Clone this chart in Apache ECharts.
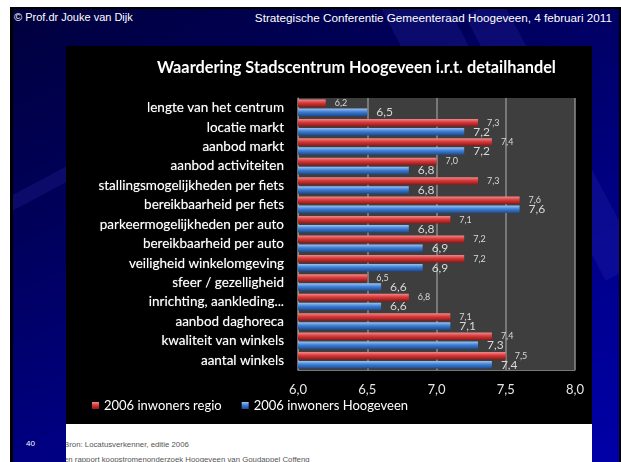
<!DOCTYPE html>
<html>
<head>
<meta charset="utf-8">
<script src="https://cdn.jsdelivr.net/npm/echarts@6/dist/echarts.min.js"></script>
<style>
  html, body { margin: 0; padding: 0; background: #fff; }
  .slide {
    position: absolute; left: 10px; top: 7px; width: 606px; height: 460px;
    border-left: 3px solid #000; border-top: 2px solid #000; border-right: 2px solid #000;
    background: linear-gradient(155deg, #00003e 0%, #00005a 30%, #000080 60%, #00009a 85%, #0000a8 100%);
    overflow: hidden;
  }
  .streak { position: absolute; background: rgba(60, 60, 200, 0.18); transform: rotate(-28deg); }
  .hdr { position: absolute; top: 11px; color: #fff; font-family: "Liberation Sans", sans-serif; white-space: nowrap; }
  #chart { position: absolute; left: 66px; top: 46px; width: 526px; height: 378px; background: #000; }
  .note { position: absolute; left: 66px; top: 424px; width: 526px; height: 38px; background: #fff; overflow: hidden; }
  .note div { position: absolute; left: -2px; font-family: "Liberation Sans", sans-serif; font-size: 7.8px; color: #555; white-space: nowrap; }
  .pnum { position: absolute; left: 26px; top: 439px; color: #fff; font-family: "Liberation Sans", sans-serif; font-size: 8px; }
</style>
</head>
<body>
<div class="slide">
  <div class="streak" style="left:420px;top:-40px;width:60px;height:260px;"></div>
  <div class="streak" style="left:520px;top:-20px;width:40px;height:300px;"></div>
  <div class="streak" style="left:-20px;top:160px;width:140px;height:14px;"></div>
</div>
<div class="hdr" style="left:14px;font-size:11px;">© Prof.dr Jouke van Dijk</div>
<div class="hdr" style="right:9px;font-size:11.7px;">Strategische Conferentie Gemeenteraad Hoogeveen, 4 februari 2011</div>
<div id="chart"></div>
<div class="note">
  <div style="top:16px;">Bron: Locatusverkenner, editie 2006</div>
  <div style="top:31px;">en rapport koopstromenonderzoek Hoogeveen van Goudappel Coffeng</div>
</div>
<div class="pnum">40</div>

<script>
// data
const categories = [
  "lengte van het centrum", "locatie markt", "aanbod markt", "aanbod activiteiten",
  "stallingsmogelijkheden per fiets", "bereikbaarheid per fiets", "parkeermogelijkheden per auto",
  "bereikbaarheid per auto", "veiligheid winkelomgeving", "sfeer / gezelligheid",
  "inrichting, aankleding...", "aanbod daghoreca", "kwaliteit van winkels", "aantal winkels"
];
const regio = [6.2, 7.3, 7.4, 7.0, 7.3, 7.6, 7.1, 7.2, 7.2, 6.5, 6.8, 7.1, 7.4, 7.5];
const hoogeveen = [6.5, 7.2, 7.2, 6.8, 6.8, 7.6, 6.8, 6.9, 6.9, 6.6, 6.6, 7.1, 7.3, 7.4];
const seriesNames = ["2006 inwoners regio", "2006 inwoners Hoogeveen"];

const comma = v => Number(v).toFixed(1).replace(".", ",");
const font = "Lato, 'Open Sans', sans-serif";

const redFill = new echarts.graphic.LinearGradient(0, 0, 0, 1, [
  { offset: 0, color: "#f28a8a" }, { offset: 0.45, color: "#d83a3a" }, { offset: 1, color: "#8c1717" }
]);
const blueFill = new echarts.graphic.LinearGradient(0, 0, 0, 1, [
  { offset: 0, color: "#9cc4f5" }, { offset: 0.45, color: "#3f7fd6" }, { offset: 1, color: "#1d4a8c" }
]);

const myChart = echarts.init(document.getElementById("chart"));
const option = {
  backgroundColor: "#000",
  animation: false,
  title: {
    text: "Waardering Stadscentrum Hoogeveen i.r.t. detailhandel",
    left: 86,
    top: 9,
    textStyle: { color: "#fff", fontSize: 16.3, fontWeight: "bold", fontFamily: font }
  },
  legend: {
    left: 21,
    top: 348,
    icon: "rect",
    itemWidth: 7,
    itemHeight: 7,
    itemGap: 20,
    textStyle: { color: "#fff", fontSize: 13, fontFamily: font },
    data: seriesNames
  },
  grid: {
    left: 232, right: 17, top: 52, bottom: 54,
    show: true, backgroundColor: "#3e3e3e", borderWidth: 0
  },
  xAxis: {
    type: "value",
    min: 6, max: 8, interval: 0.5,
    axisLine: { show: true, lineStyle: { color: "#777" } },
    axisTick: { show: false },
    splitLine: { lineStyle: { color: "#8c8c8c", width: 1.5 } },
    axisLabel: { color: "#e6e6e6", fontSize: 13, margin: 13, fontFamily: font, formatter: comma }
  },
  yAxis: {
    type: "category",
    inverse: true,
    data: categories,
    axisLine: { lineStyle: { color: "#8c8c8c" } },
    axisTick: { length: 4, lineStyle: { color: "#8c8c8c" } },
    axisLabel: {
      color: "#fff", fontSize: 13.5, margin: 14, fontFamily: font,
      textShadowColor: "rgba(255,255,255,0.55)", textShadowBlur: 1
    }
  },
  series: [
    {
      name: seriesNames[0], type: "bar", data: regio,
      barWidth: 7.5, barGap: "20%",
      itemStyle: { color: redFill },
      label: { show: true, position: "right", distance: 9, color: "#d8d8d8", fontSize: 9, fontFamily: font, formatter: p => comma(p.value) }
    },
    {
      name: seriesNames[1], type: "bar", data: hoogeveen,
      barWidth: 7.5,
      itemStyle: { color: blueFill },
      label: { show: true, position: "right", distance: 9, color: "#d8d8d8", fontSize: 12, fontFamily: font, formatter: p => comma(p.value) }
    }
  ]
};
myChart.setOption(option);
window.onresize = function () { myChart.resize(); };
</script>
</body>
</html>
